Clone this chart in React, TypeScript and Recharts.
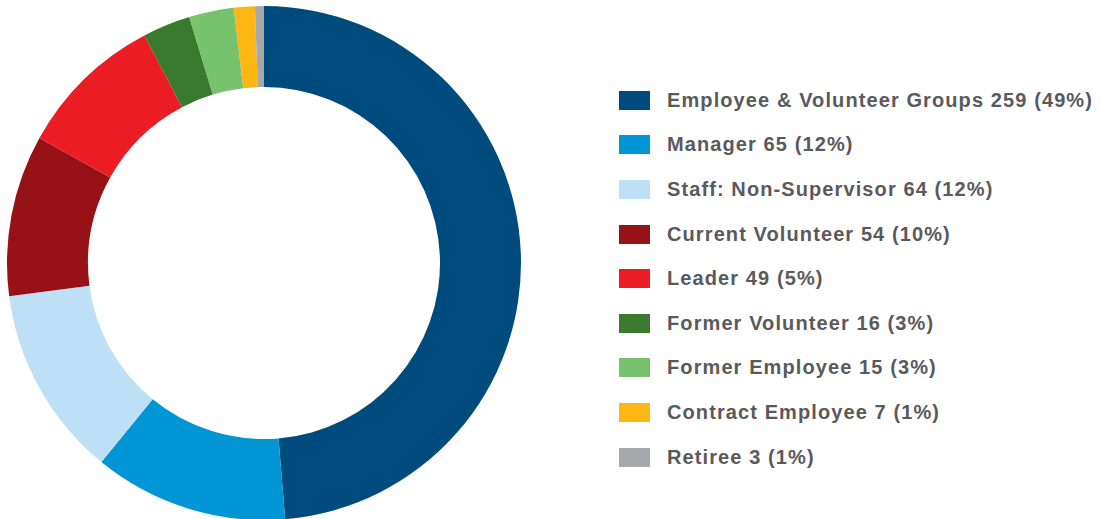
import { PieChart, Pie, Cell, Legend } from 'recharts'

const labels = [
  'Employee & Volunteer Groups', 'Manager', 'Staff: Non-Supervisor', 'Current Volunteer',
  'Leader', 'Former Volunteer', 'Former Employee', 'Contract Employee', 'Retiree',
]
const counts = [259, 65, 64, 54, 49, 16, 15, 7, 3]
const percents = ['49%', '12%', '12%', '10%', '5%', '3%', '3%', '1%', '1%']
const colors = ['#004b7d', '#0095d5', '#bde0f6', '#961216', '#ec1c24', '#3a7a2f', '#77c26c', '#fdb714', '#a6a8ab']

const data = labels.map((l, i) => ({ name: l, value: counts[i], pct: percents[i], color: colors[i] }))

function LegendList() {
  return (
    <div style={{ fontFamily: '"Liberation Sans", Arial, sans-serif', fontWeight: 700, fontSize: 20, letterSpacing: 1.1, color: '#5a5a5c' }}>
      {data.map(d => (
        <div key={d.name} style={{ display: 'flex', alignItems: 'center', height: 44.6 }}>
          <div style={{ width: 31, height: 19, background: d.color, marginRight: 17 }} />
          <span style={{ whiteSpace: 'nowrap' }}>{`${d.name} ${d.value} (${d.pct})`}</span>
        </div>
      ))}
    </div>
  )
}

export default function App() {
  return (
    <div style={{ position: 'absolute', left: 0, top: 0, width: 1101, height: 519, background: '#fff' }}>
      <PieChart width={1101} height={519} margin={{ top: 0, right: 0, bottom: 0, left: 0 }}>
        <Pie
          data={data}
          dataKey="value"
          cx={264}
          cy={263}
          innerRadius={176}
          outerRadius={257}
          startAngle={90}
          endAngle={-270}
          strokeWidth={0}
          isAnimationActive={false}
        >
          {data.map((d, i) => <Cell key={i} fill={d.color} />)}
        </Pie>
        <Legend
          content={() => <LegendList />}
          layout="vertical"
          wrapperStyle={{ position: 'absolute', left: 619, top: 78, width: 482 }}
        />
      </PieChart>
    </div>
  )
}
